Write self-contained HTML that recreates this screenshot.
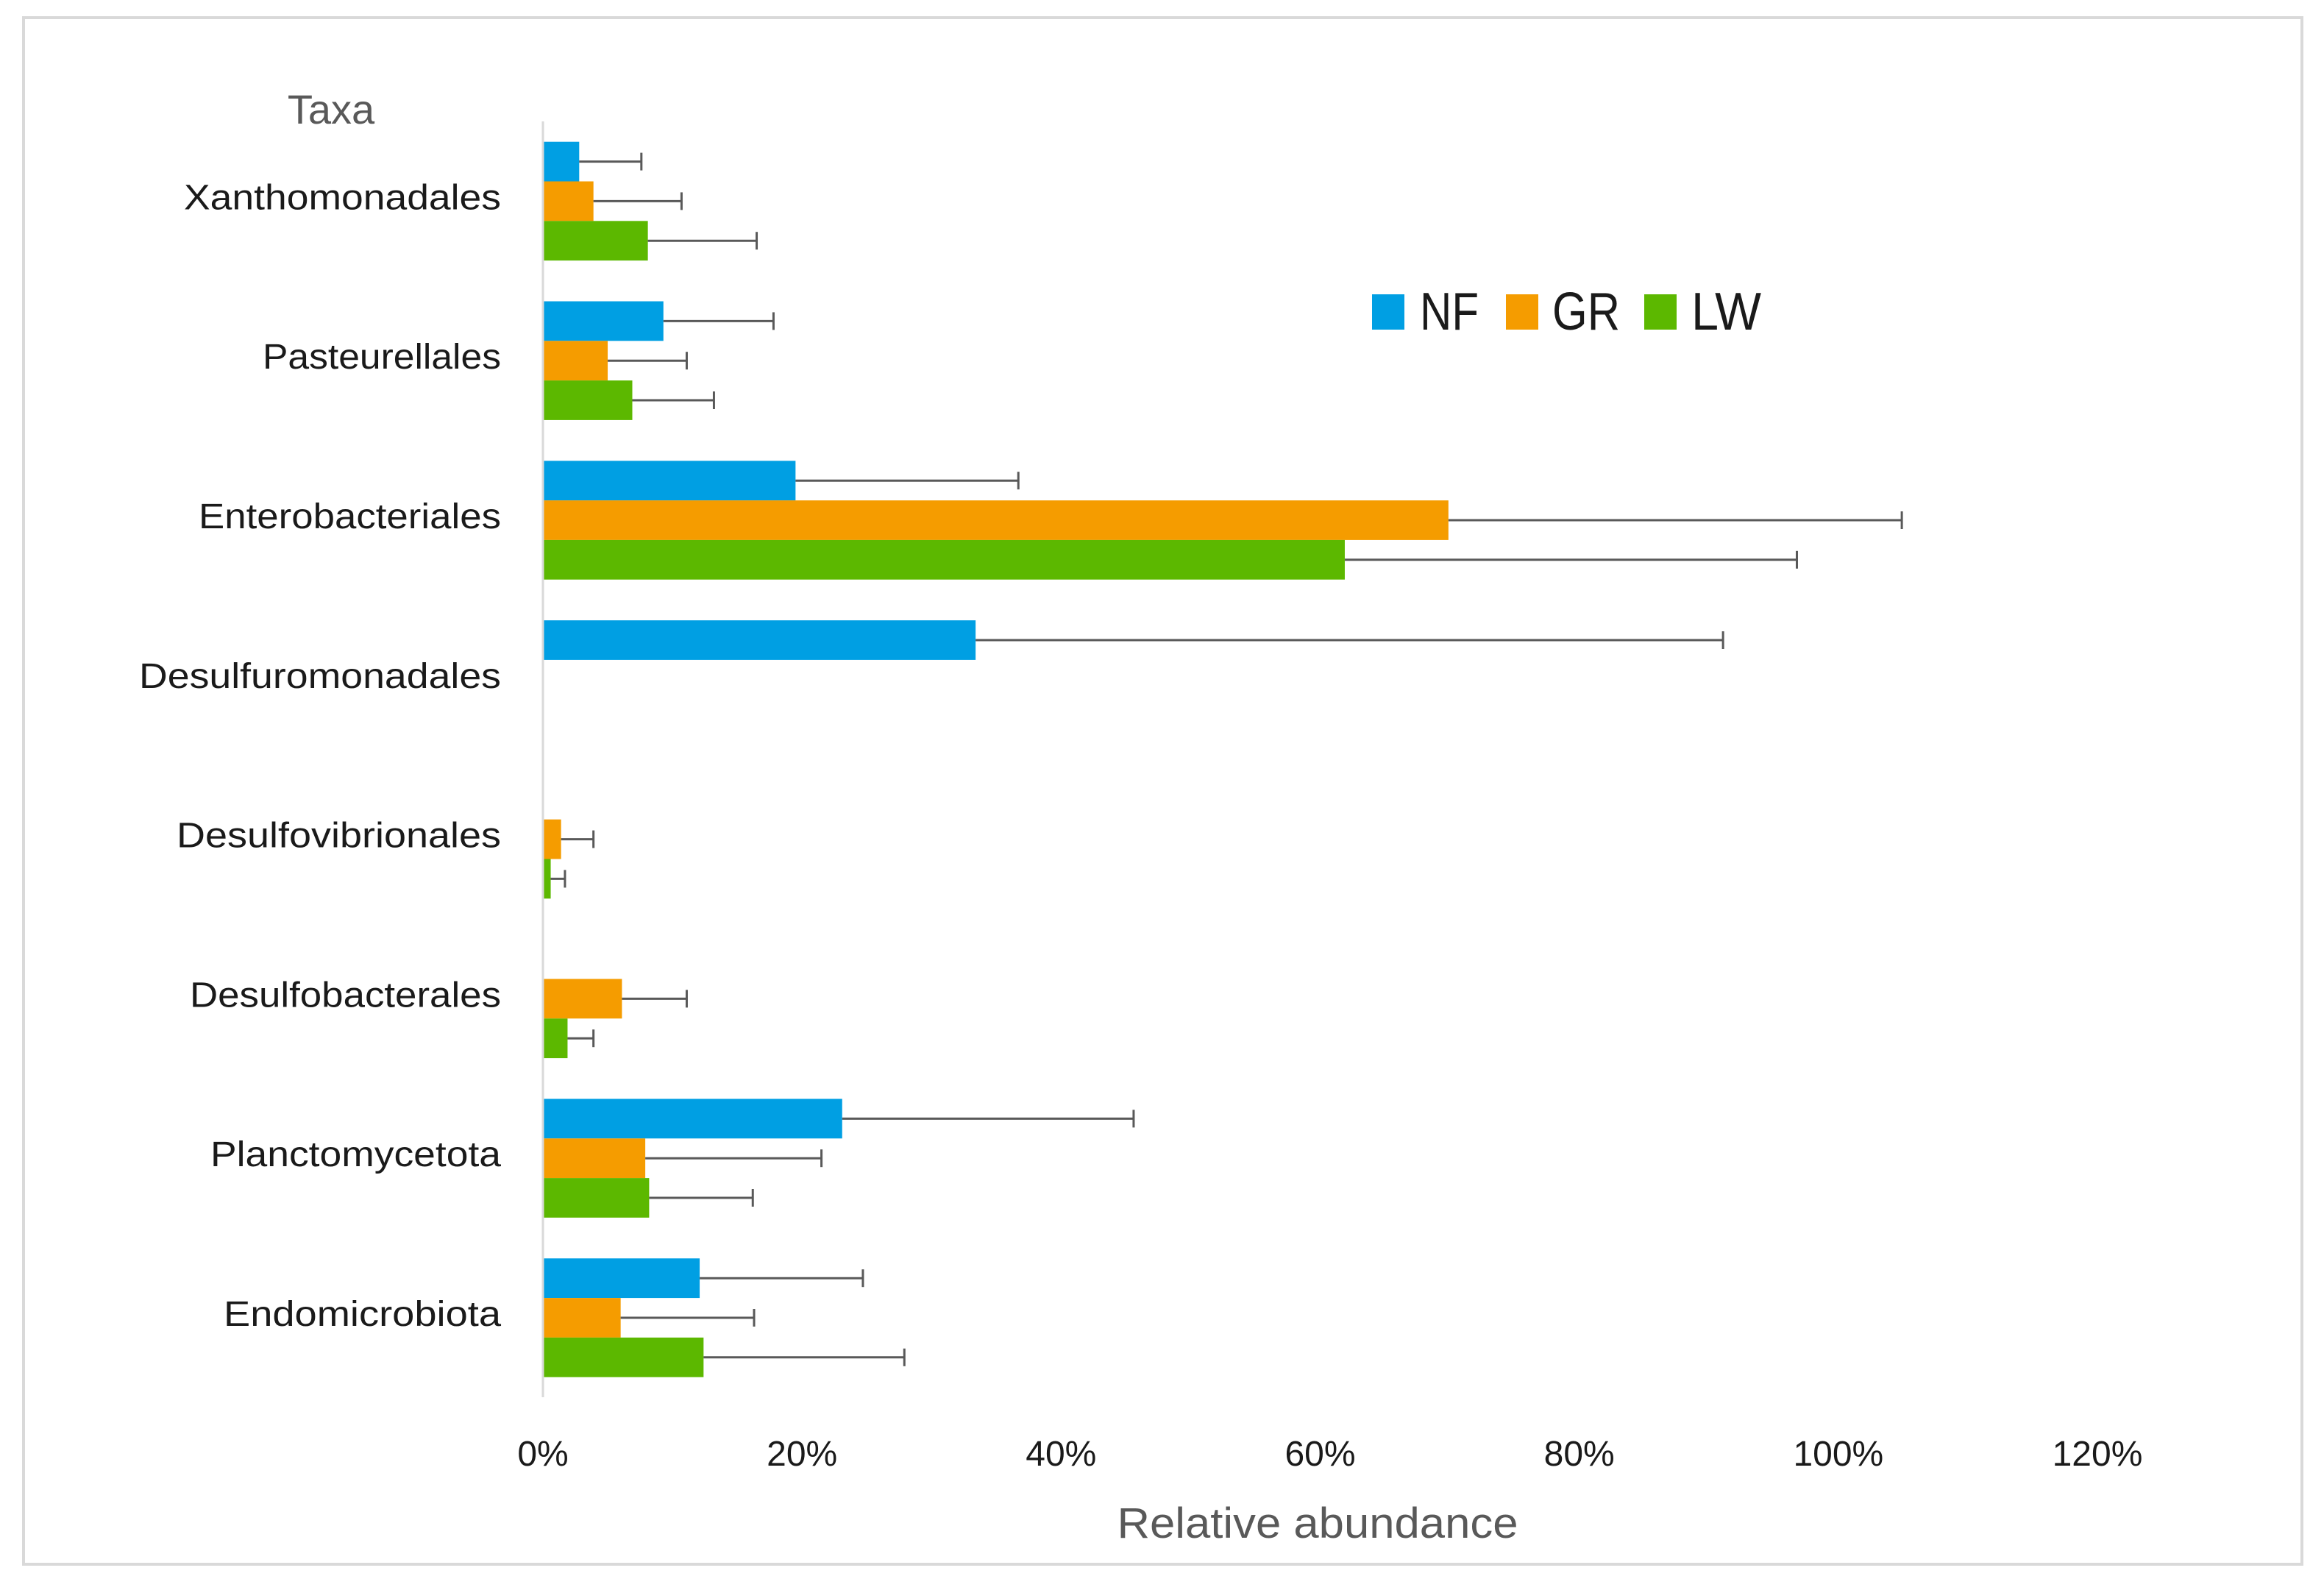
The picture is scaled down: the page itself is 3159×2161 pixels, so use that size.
<!DOCTYPE html>
<html><head><meta charset="utf-8"><style>
html,body{margin:0;padding:0;background:#fff;}
svg{display:block;font-family:"Liberation Sans",sans-serif;}
</style></head><body>
<svg id="chart" width="3159" height="2161" viewBox="0 0 3159 2161" xmlns="http://www.w3.org/2000/svg">
<rect x="32" y="24" width="3097" height="2102" fill="#fff" stroke="#d9d9d9" stroke-width="4"/>
<g id="bars"></g>
<line x1="738" y1="165" x2="738" y2="1899" stroke="#d9d9d9" stroke-width="3"/>
<g id="cats"></g>
<g id="ticks"></g>
<text x="450" y="168" font-size="56" fill="#595959" text-anchor="middle">Taxa</text>
<text x="1791" y="2090" font-size="58" fill="#595959" text-anchor="middle" textLength="545" lengthAdjust="spacingAndGlyphs">Relative abundance</text>
<g>
<rect x="1865" y="400" width="44" height="48" fill="#009fe3"/>
<text x="1930" y="448" font-size="72" fill="#1a1a1a" textLength="80" lengthAdjust="spacingAndGlyphs">NF</text>
<rect x="2047" y="400" width="44" height="48" fill="#f59c00"/>
<text x="2110" y="448" font-size="72" fill="#1a1a1a" textLength="92" lengthAdjust="spacingAndGlyphs">GR</text>
<rect x="2235" y="400" width="44" height="48" fill="#5cb800"/>
<text x="2299" y="448" font-size="72" fill="#1a1a1a" textLength="95" lengthAdjust="spacingAndGlyphs">LW</text>
</g>
</svg>
<script>
const categories = ["Xanthomonadales","Pasteurellales","Enterobacteriales","Desulfuromonadales","Desulfovibrionales","Desulfobacterales","Planctomycetota","Endomicrobiota"];
const nfValues = [2.8, 9.3, 19.5, 33.4, 0, 0, 23.1, 12.1];
const nfErrors = [7.6, 17.8, 36.7, 91.1, 0, 0, 45.6, 24.7];
const grValues = [3.9, 5.0, 69.9, 0, 1.4, 6.1, 7.9, 6.0];
const grErrors = [10.7, 11.1, 104.9, 0, 3.9, 11.1, 21.5, 16.3];
const lwValues = [8.1, 6.9, 61.9, 0, 0.6, 1.9, 8.2, 12.4];
const lwErrors = [16.5, 13.2, 96.8, 0, 1.7, 3.9, 16.2, 27.9];
const tickValues = [0, 20, 40, 60, 80, 100, 120];
const tickLabels = ["0%","20%","40%","60%","80%","100%","120%"];

const NS = "http://www.w3.org/2000/svg";
const labelWidths = [431, 324, 411, 492, 441, 423, 395, 377];
const X0 = 738, X120 = 2851, TOP = 165, BAND = 216.8, BARH = 53.8;
function xScale(v){ return X0 + (X120 - X0) * v / 120; }
function bandTop(i){ return TOP + i * BAND + (BAND - 3 * BARH) / 2; }
function mk(tag, attrs, parent){ const e = document.createElementNS(NS, tag); for (const k in attrs) e.setAttribute(k, attrs[k]); parent.appendChild(e); return e; }

const series = [
  {key:"nf", vals:nfValues, errs:nfErrors, color:"#009fe3"},
  {key:"gr", vals:grValues, errs:grErrors, color:"#f59c00"},
  {key:"lw", vals:lwValues, errs:lwErrors, color:"#5cb800"}
];
const gb = document.getElementById("bars");
categories.forEach((c, i) => {
  series.forEach((s, j) => {
    const y = bandTop(i) + j * BARH;
    const v = s.vals[i], e = s.errs[i];
    if (v > 0) {
      const r = mk("rect", {x:X0, y:y, width:xScale(v) - X0, height:BARH, fill:s.color}, gb);
      
      
    }
    if (e > v) {
      const cy = y + BARH / 2;
      const l = mk("line", {x1:xScale(v), y1:cy, x2:xScale(e), y2:cy, stroke:"#595959", "stroke-width":3}, gb);
      
      
      const cap = mk("line", {x1:xScale(e), y1:cy - 12, x2:xScale(e), y2:cy + 12, stroke:"#595959", "stroke-width":3}, gb);
      
      
    }
  });
});
const gc = document.getElementById("cats");
categories.forEach((c, i) => {
  const t = mk("text", {x:681, y:TOP + i * BAND + BAND / 2 + 11, "font-size":48, fill:"#1a1a1a", "text-anchor":"end", textLength:labelWidths[i], lengthAdjust:"spacingAndGlyphs"}, gc);
  t.textContent = c;
  
  
});
const gt = document.getElementById("ticks");
tickValues.forEach((v, i) => {
  const t = mk("text", {x:xScale(v), y:1992, "font-size":48, fill:"#1a1a1a", "text-anchor":"middle"}, gt);
  t.textContent = tickLabels[i];
  
  
});
</script>
</body></html>
